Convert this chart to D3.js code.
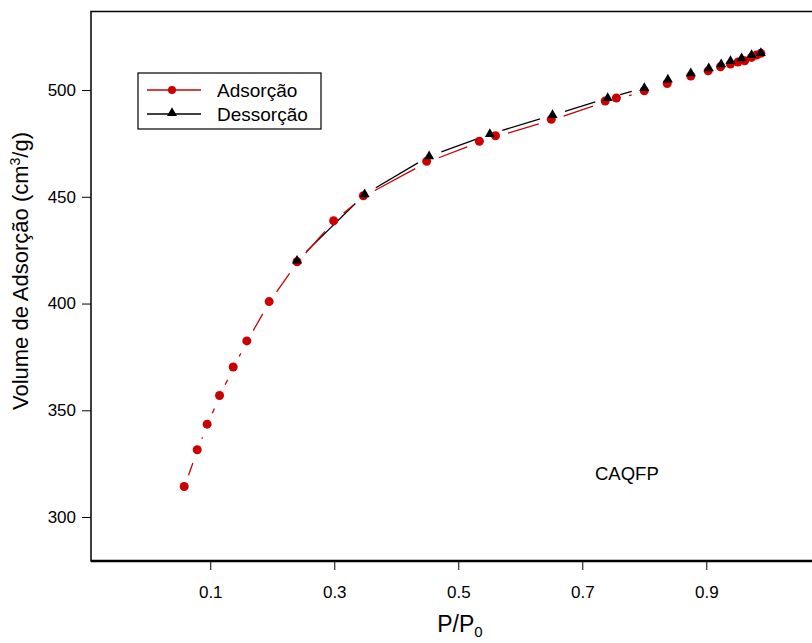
<!DOCTYPE html>
<html>
<head>
<meta charset="utf-8">
<script src="https://cdn.jsdelivr.net/npm/d3@7"></script>
<style>
  body { margin: 0; background: #fff; }
  text { font-family: Arial, "Liberation Sans", sans-serif; }
</style>
</head>
<body>
<div id="chart"></div>
<script>
// adsorption branch (P/P0, volume)
var adsX = [0.058, 0.079, 0.095, 0.115, 0.137, 0.159, 0.195, 0.240, 0.299, 0.347, 0.449, 0.534, 0.560,
            0.650, 0.737, 0.755, 0.800, 0.837, 0.875, 0.903, 0.923, 0.939, 0.951, 0.962, 0.973, 0.981, 0.988];
var adsY = [314.3, 331.5, 343.5, 356.9, 370.3, 382.5, 400.9, 419.6, 438.8, 450.5, 466.6, 476.0, 478.6,
            486.3, 494.9, 496.3, 499.7, 503.1, 506.6, 509.0, 510.9, 512.2, 513.1, 513.7, 515.3, 516.4, 517.2];
// desorption branch
var desX = [0.988, 0.973, 0.957, 0.939, 0.924, 0.904, 0.875, 0.838, 0.800, 0.741, 0.652, 0.551, 0.453, 0.349, 0.240];
var desY = [516.9, 515.9, 514.4, 513.1, 511.6, 509.7, 507.4, 504.4, 500.5, 495.8, 487.8, 478.9, 468.5, 450.7, 419.6];

var xTicks = [0.1, 0.3, 0.5, 0.7, 0.9];
var yTicks = [300, 350, 400, 450, 500];
var seriesNames = ["Adsorção", "Dessorção"];
var sampleLabel = "CAQFP";

var W = 812, H = 643;
var margin = {top: 11.5, right: -2, bottom: 82, left: 91};
var width = W - margin.left - margin.right,
    height = H - margin.top - margin.bottom;

var x = d3.scaleLinear().domain([-0.0923, 1.0737]).range([0, width]);
var y = d3.scaleLinear().domain([279.4, 536.8]).range([height, 0]);

var svg = d3.select("#chart").append("svg")
    .attr("width", W)
    .attr("height", H);

var g = svg.append("g")
    .attr("transform", "translate(" + margin.left + "," + margin.top + ")");

// frame
g.append("rect")
    .attr("x", 0).attr("y", 0)
    .attr("width", width).attr("height", height)
    .attr("fill", "none").attr("stroke", "#000").attr("stroke-width", 1.5);
g.append("line")
    .attr("x1", 0).attr("x2", width).attr("y1", height).attr("y2", height)
    .attr("stroke", "#000").attr("stroke-width", 2.5);

var xAxis = g.append("g")
    .attr("transform", "translate(0," + height + ")")
    .call(d3.axisBottom(x).tickValues(xTicks).tickSize(9).tickPadding(16).tickFormat(d3.format(".1f")));
xAxis.select(".domain").remove();
xAxis.selectAll("text").attr("font-size", 17).attr("fill", "#000")
    .style("font-family", "Arial, 'Liberation Sans', sans-serif");

var yAxis = g.append("g")
    .call(d3.axisLeft(y).tickValues(yTicks).tickSize(9).tickPadding(6));
yAxis.select(".domain").remove();
yAxis.selectAll("text").attr("font-size", 17).attr("fill", "#000")
    .style("font-family", "Arial, 'Liberation Sans', sans-serif");

// axis titles
var xt = svg.append("text")
    .attr("x", 460).attr("y", 632)
    .attr("text-anchor", "middle")
    .attr("font-size", 23);
xt.append("tspan").text("P/P");
xt.append("tspan").attr("font-size", 15).attr("dy", 5).text("0");

var yt = svg.append("text")
    .attr("transform", "translate(28,271) rotate(-90)")
    .attr("text-anchor", "middle")
    .attr("font-size", 22);
yt.append("tspan").text("Volume de Adsorção (cm");
yt.append("tspan").attr("font-size", 14).attr("dy", -8).text("3");
yt.append("tspan").attr("dy", 8).text("/g)");

// lines drawn as in type="b": segments with a gap round each point
var GAP = 13;
function gappedSegments(xs, ys) {
    var segs = [];
    for (var i = 0; i < xs.length - 1; i++) {
        var x1 = x(xs[i]), y1 = y(ys[i]), x2 = x(xs[i + 1]), y2 = y(ys[i + 1]);
        var dx = x2 - x1, dy = y2 - y1, len = Math.sqrt(dx * dx + dy * dy);
        if (len <= 2 * GAP) continue;
        var ux = dx / len, uy = dy / len;
        segs.push([x1 + ux * GAP, y1 + uy * GAP, x2 - ux * GAP, y2 - uy * GAP]);
    }
    return segs;
}

var red = "#cc0000";

g.append("g").selectAll("line")
    .data(gappedSegments(desX, desY))
    .enter().append("line")
    .attr("x1", d => d[0]).attr("y1", d => d[1] - 1)
    .attr("x2", d => d[2]).attr("y2", d => d[3] - 1)
    .attr("stroke", "#000").attr("stroke-width", 1.3);

g.append("g").selectAll("line")
    .data(gappedSegments(adsX, adsY))
    .enter().append("line")
    .attr("x1", d => d[0]).attr("y1", d => d[1] + 1)
    .attr("x2", d => d[2]).attr("y2", d => d[3] + 1)
    .attr("stroke", red).attr("stroke-width", 1.3);

// markers
g.append("g").selectAll("circle")
    .data(adsX)
    .enter().append("circle")
    .attr("cx", (d, i) => x(d))
    .attr("cy", (d, i) => y(adsY[i]))
    .attr("r", 4.5)
    .attr("fill", red);

var tri = d3.symbol().type(d3.symbolTriangle).size(44);
g.append("g").selectAll("path")
    .data(desX)
    .enter().append("path")
    .attr("d", tri)
    .attr("transform", (d, i) => "translate(" + x(d) + "," + (y(desY[i]) - 1) + ")")
    .attr("fill", "#000");

// legend
var leg = svg.append("g").attr("transform", "translate(138,73)");
leg.append("rect")
    .attr("width", 183).attr("height", 56)
    .attr("fill", "#fff").attr("stroke", "#000").attr("stroke-width", 1.2);
var rows = leg.selectAll("g.row")
    .data(seriesNames)
    .enter().append("g")
    .attr("class", "row")
    .attr("transform", (d, i) => "translate(0," + (17 + i * 24) + ")");
rows.append("line")
    .attr("x1", 9).attr("x2", 63)
    .attr("stroke", (d, i) => i === 0 ? red : "#000")
    .attr("stroke-width", 1.5);
rows.each(function(d, i) {
    var r = d3.select(this);
    if (i === 0) {
        r.append("circle").attr("cx", 34).attr("cy", 0).attr("r", 4).attr("fill", red);
    } else {
        r.append("path").attr("d", tri).attr("transform", "translate(34,-1)").attr("fill", "#000");
    }
});
rows.append("text")
    .attr("x", 79).attr("y", 7)
    .attr("font-size", 19)
    .text(d => d);

// sample label
svg.append("text")
    .attr("x", 595).attr("y", 480)
    .attr("font-size", 18.5)
    .text(sampleLabel);
</script>
</body>
</html>
